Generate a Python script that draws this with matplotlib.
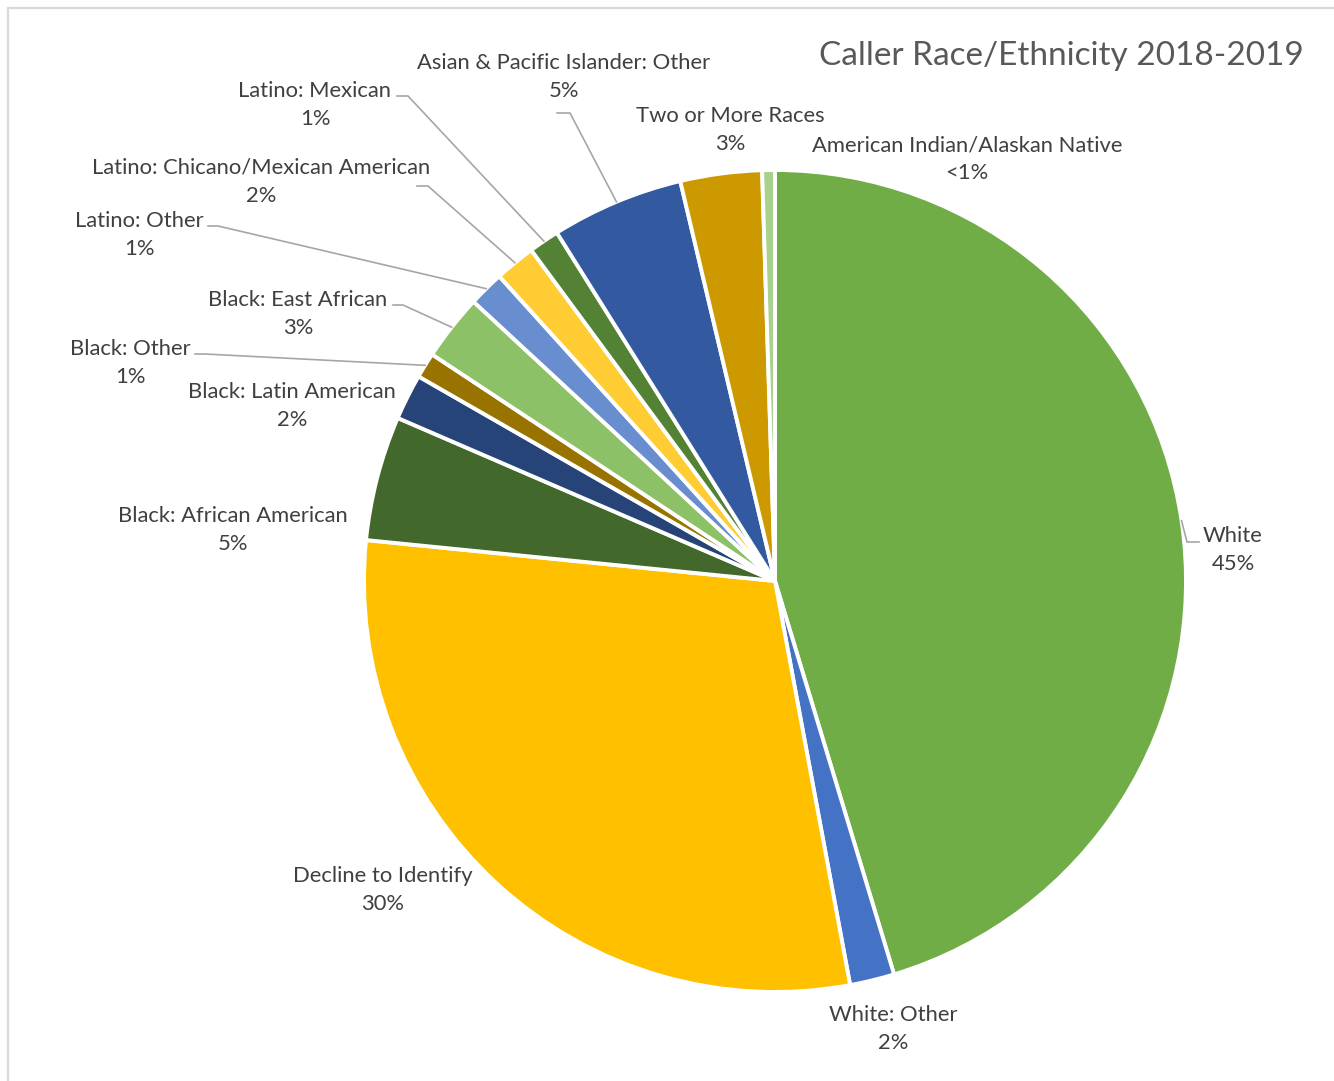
import numpy as np
import matplotlib
matplotlib.use('Agg')
from matplotlib import pyplot as plt
from matplotlib.patches import Rectangle

# canvas in pixels (top-left origin for layout positions)
W, H = 1334, 1081

# DATA (clockwise from 12 o'clock)
categories = ['White', 'White: Other', 'Decline to Identify',
              'Black: African American', 'Black: Latin American',
              'Black: Other', 'Black: East African', 'Latino: Other',
              'Latino: Chicano/Mexican American', 'Latino: Mexican',
              'Asian & Pacific Islander: Other', 'Two or More Races',
              'American Indian/Alaskan Native']
shares = [45.3, 1.75, 29.5, 4.9, 1.8, 1.0, 2.6, 1.4, 1.6, 1.2, 5.2, 3.2, 0.5]
pct_labels = ['45%', '2%', '30%', '5%', '2%', '1%', '3%', '1%', '2%', '1%',
              '5%', '3%', '<1%']

colors = ['#70AD47', '#4472C4', '#FFC000', '#43682B', '#264478', '#997300',
          '#8CC168', '#698ED0', '#FFCD33', '#548235', '#335AA1', '#CC9A00',
          '#A9D18E']

# label layout: text block centre, and leader stub (x0, x1, y) or None
label_pos = [(1233, 550), (893, 1029), (383, 890), (233, 530), (292, 406),
             (130, 363), (298, 314), (139, 235), (261, 182), (315, 105),
             (564, 77), (730, 130), (967, 159)]
leaders = [(1199, 1187, 542), None, None, None, None,
           (195, 205, 354), (393, 403, 305), (208, 218, 226),
           (417, 428, 186), (397, 408, 96), (557, 570, 113), None, None]

CX, CY, R = 775, 581, 411
TXT = '#404040'
LINE = '#A6A6A6'
FONT = 'Lato'


def Y(y):
    return H - y


fig = plt.figure(figsize=(W / 100, H / 100), dpi=100)
ax = fig.add_axes([0, 0, 1, 1])

wedges, _ = ax.pie(shares, colors=colors, startangle=90, counterclock=False,
                   center=(CX, Y(CY)), radius=R,
                   wedgeprops=dict(edgecolor='white', linewidth=2.8))

ax.set_xlim(0, W)
ax.set_ylim(0, H)
ax.set_aspect('equal')
ax.axis('off')

# chart area border (only top and left visible in the crop)
ax.add_patch(Rectangle((7.5, -20), W + 40, Y(7.5) + 20, fill=False,
                       edgecolor='#D9D9D9', linewidth=1.6))

for i in range(len(categories)):
    cx, cy = label_pos[i]
    ax.text(cx, Y(cy - 14), categories[i], ha='center', va='center',
            fontsize=15.8, color=TXT, family=FONT)
    ax.text(cx, Y(cy + 14), pct_labels[i], ha='center', va='center',
            fontsize=15.8, color=TXT, family=FONT)

    if leaders[i] is not None:
        w = wedges[i]
        mid = np.deg2rad((w.theta1 + w.theta2) / 2)
        rx = CX + R * np.cos(mid)
        ry = Y(CY) + R * np.sin(mid)
        x0, x1, ly = leaders[i]
        ax.plot([x0, x1, rx], [Y(ly), Y(ly), ry], color=LINE, linewidth=1.2,
                solid_joinstyle='miter')

ax.text(1304, Y(56), 'Caller Race/Ethnicity 2018-2019', ha='right',
        va='center', fontsize=24, color='#595959', family=FONT)

plt.savefig('out.png', dpi=100)
